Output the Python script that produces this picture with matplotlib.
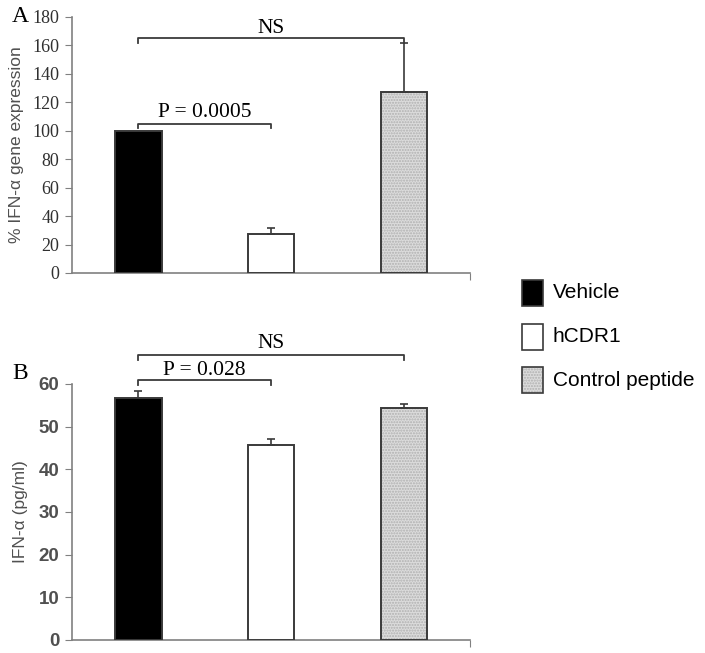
import numpy as np
import matplotlib.pyplot as plt

groups = ["Vehicle", "hCDR1", "Control peptide"]
gene_expr = [100, 27.5, 127.5]
gene_err = [0, 4, 34.5]
ifn_pg = [56.8, 45.8, 54.3]
ifn_err = [1.5, 1.4, 0.9]

face = ["black", "white", "#dcdcdc"]
serif = "Liberation Serif"
sans = "Liberation Sans"

fig = plt.figure(figsize=(7.05, 6.53), dpi=100)
axA = fig.add_axes([0.102, 0.582, 0.565, 0.392])
axB = fig.add_axes([0.102, 0.020, 0.565, 0.392])

x = np.arange(len(groups))
w = 0.35


def draw(ax, vals, errs, ymax, step, tickfont):
    for i, (v, e) in enumerate(zip(vals, errs)):
        if i == 2:
            ax.bar(x[i], v, w, color=face[i], edgecolor="#b0b0b0", hatch="......", linewidth=0, zorder=2)
            ax.bar(x[i], v, w, fill=False, edgecolor="#3a3a3a", linewidth=1.4, zorder=3)
        else:
            ax.bar(x[i], v, w, color=face[i], edgecolor="#3a3a3a", linewidth=1.4, zorder=3)
        if e > 0:
            ax.errorbar(x[i], v, yerr=[[0], [e]], fmt="none", ecolor="#3a3a3a",
                        elinewidth=1.2, capsize=3, capthick=1.2, zorder=4)
    ax.set_xlim(-0.5, 2.5)
    ax.set_ylim(0, ymax)
    ax.set_yticks(np.arange(0, ymax + 1, step))
    for lab in ax.get_yticklabels():
        lab.set_fontfamily(tickfont)
        if tickfont == serif:
            lab.set_fontsize(13)
            lab.set_color("#303030")
        else:
            lab.set_fontsize(13.5)
            lab.set_color("#505050")
            lab.set_fontweight("bold")
    ax.set_xticks([2.5])
    ax.set_xticklabels([])
    ax.tick_params(axis="x", direction="out", length=5, color="#808080")
    ax.tick_params(axis="y", direction="out", length=5, color="#808080", pad=4)
    for s in ["top", "right"]:
        ax.spines[s].set_visible(False)
    for s in ["left", "bottom"]:
        ax.spines[s].set_color("#808080")
        ax.spines[s].set_linewidth(1.2)


def bracket(ax, x1, x2, y, drop, text, ty):
    ax.plot([x1, x1, x2, x2], [y - drop, y, y, y - drop], color="#3a3a3a",
            lw=1.3, clip_on=False, zorder=5)
    ax.text((x1 + x2) / 2, ty, text, ha="center", va="center",
            fontfamily=serif, fontsize=15.5, clip_on=False)


draw(axA, gene_expr, gene_err, 180, 20, serif)
axA.set_ylabel("% IFN-\u03b1 gene expression", fontfamily=sans, fontsize=12.5, color="#505050", labelpad=6)
bracket(axA, 0, 2, 165, 3, "NS", 172)
bracket(axA, 0, 1, 105, 3, "P = 0.0005", 112.5)

draw(axB, ifn_pg, ifn_err, 60, 10, sans)
axB.set_ylabel("IFN-\u03b1 (pg/ml)", fontfamily=sans, fontsize=12.5, color="#505050", labelpad=8)
bracket(axB, 0, 2, 66.8, 1.2, "NS", 69.5)
bracket(axB, 0, 1, 61.0, 1.2, "P = 0.028", 63.2)

fig.text(0.017, 0.975, "A", fontfamily=serif, fontsize=17, ha="left", va="center")
fig.text(0.017, 0.428, "B", fontfamily=serif, fontsize=17, ha="left", va="center")

# legend
leg_y = [293, 337, 380]
for i, g in enumerate(groups):
    yy = 1 - leg_y[i] / 653
    if i == 2:
        r = plt.Rectangle((522 / 705, yy - 13 / 653), 21 / 705, 26 / 653, transform=fig.transFigure,
                          facecolor=face[i], edgecolor="#b0b0b0", hatch="......", linewidth=0)
        fig.patches.append(r)
        r2 = plt.Rectangle((522 / 705, yy - 13 / 653), 21 / 705, 26 / 653, transform=fig.transFigure,
                           fill=False, edgecolor="#3a3a3a", linewidth=1.2)
        fig.patches.append(r2)
    else:
        r = plt.Rectangle((522 / 705, yy - 13 / 653), 21 / 705, 26 / 653, transform=fig.transFigure,
                          facecolor=face[i], edgecolor="#3a3a3a", linewidth=1.2)
        fig.patches.append(r)
    fig.text(553 / 705, yy, g, fontfamily=sans, fontsize=15, ha="left", va="center")

fig.savefig("out.png", dpi=100)
